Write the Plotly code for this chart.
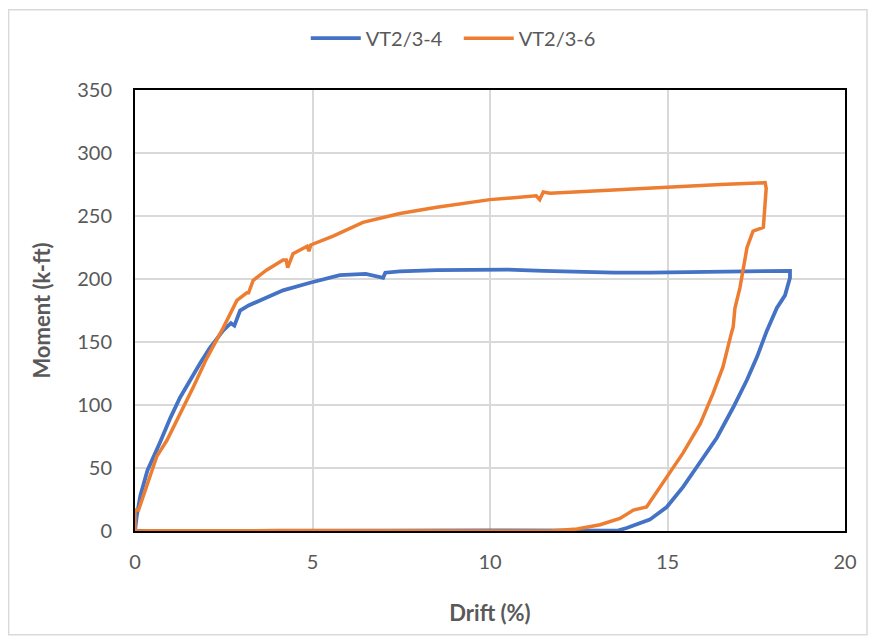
import plotly.graph_objects as go

# VT2/3-4 (blue): loading, unloading, return
vt4_drift = [0, 0.05, 0.15, 0.35, 0.7, 1.0, 1.27, 1.55, 1.83, 2.1, 2.48, 2.7, 2.8, 2.96, 3.2, 3.52, 4.17, 4.93,
             5.77, 6.5, 6.99, 7.05, 7.46, 8.5, 9.5, 10.5, 11.5, 12.5, 13.5, 14.5, 15.5, 16.5, 17.5, 18.2, 18.45,
             18.45, 18.31, 18.08, 17.8, 17.52, 17.24, 16.85, 16.39, 15.83, 15.44, 14.98, 14.5, 13.85, 13.6,
             10.0, 5.0, 2.0, 0.3, 0.05]
vt4_moment = [0, 12, 28, 48, 70, 90, 106, 120, 133, 145, 159, 165, 163, 175, 179, 183, 191, 197,
              203, 204, 201, 205, 206, 207, 207, 207.5, 206.5, 205.5, 205, 205, 205.5, 206, 206.5, 207, 206.5,
              201, 187, 177, 159, 138, 120, 98, 74, 51, 35, 19, 9, 2.4, 0.3,
              0.5, 0.5, 0.3, 0.2, 0]

# VT2/3-6 (orange): loading, unloading, return
vt6_drift = [0, 0, 0.1, 0.35, 0.61, 0.9, 1.36, 1.64, 2.02, 2.25, 2.48, 2.87, 3.15, 3.2, 3.33, 3.7, 4.17, 4.26,
             4.3, 4.45, 4.85, 4.9, 4.95, 5.58, 6.06, 6.42, 7.46, 8.5, 10.0, 11.3, 11.4, 11.5, 11.69, 13.0, 15.01,
             16.5, 17.75, 17.78, 17.7, 17.41, 17.24, 17.13, 17.04, 16.9, 16.85, 16.8, 16.56, 16.28, 15.92,
             15.44, 14.98, 14.6, 14.41, 14.04, 13.66, 13.1, 12.45, 11.7, 8.0, 4.0, 0.5, 0]
vt6_moment = [0, 16.6, 16.6, 38, 59, 72, 98, 114, 137, 149, 161, 183, 189, 189, 199, 207, 215, 215,
              209, 220, 226, 222, 227, 234, 240, 245, 252, 257, 263, 266, 263, 269, 268, 270, 273,
              275, 276.5, 272, 241, 238, 225, 207, 193, 177, 162, 157, 130, 109, 85,
              62, 43, 27, 19, 16.6, 10, 5, 1.6, 0, 0.3, 0.3, 0.2, 0]

x_ticks = [0, 5, 10, 15, 20]
y_ticks = [0, 50, 100, 150, 200, 250, 300, 350]

FONT = "Lato"
TICK_COLOR = "#595959"

fig = go.Figure()
fig.add_trace(go.Scatter(x=vt4_drift, y=vt4_moment, mode="lines", name="VT2/3-4",
                         line=dict(color="#4472C4", width=3.8)))
fig.add_trace(go.Scatter(x=vt6_drift, y=vt6_moment, mode="lines", name="VT2/3-6",
                         line=dict(color="#ED7D31", width=3.5)))

fig.update_layout(
    width=860, height=628,
    margin=dict(l=127, r=23, t=81, b=105),
    paper_bgcolor="white", plot_bgcolor="white",
    font=dict(family=FONT, color=TICK_COLOR, size=20),
    legend=dict(orientation="h", x=0.456, xanchor="center", y=1.115, yanchor="middle",
                font=dict(size=20, color=TICK_COLOR), itemwidth=50, entrywidth=88),
    xaxis=dict(range=[0, 20], tickvals=x_ticks, showgrid=True, gridcolor="#d9d9d9", gridwidth=2,
               zeroline=False, showline=True, linecolor="black", linewidth=2, mirror=True,
               ticks="", ticklabelstandoff=12, tickfont=dict(size=20),
               title=dict(text="<b>Drift (%)</b>", font=dict(size=22, color=TICK_COLOR), standoff=34)),
    yaxis=dict(range=[0, 350], tickvals=y_ticks, showgrid=True, gridcolor="#d9d9d9", gridwidth=2,
               zeroline=False, showline=True, linecolor="black", linewidth=2, mirror=True,
               ticks="", ticklabelstandoff=17, tickfont=dict(size=20),
               title=dict(text="<b>Moment (k-ft)</b>", font=dict(size=22, color=TICK_COLOR), standoff=20)),
    shapes=[dict(type="rect", xref="paper", yref="paper", x0=-0.178, x1=1.031, y0=-0.235, y1=1.182,
                 line=dict(color="#d9d9d9", width=1.5), layer="below")],
)

fig.write_html("out.html")
